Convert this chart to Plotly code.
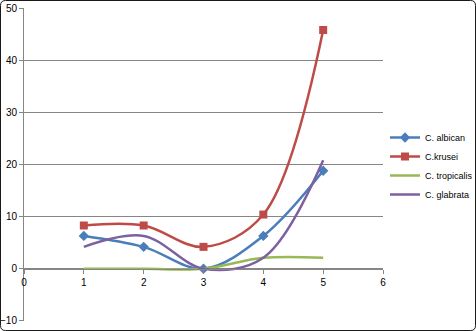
import plotly.graph_objects as go

x_vals = [1, 2, 3, 4, 5]
albican = [6.3, 4.2, 0.0, 6.3, 18.8]
krusei = [8.3, 8.3, 4.2, 10.4, 45.8]
tropicalis = [0.0, 0.0, 0.0, 2.1, 2.1]
glabrata = [4.2, 6.3, 0.0, 2.1, 20.8]

names = ["C. albican", "C.krusei", "C. tropicalis", "C. glabrata"]
colors = ["#4A7EBB", "#BE4B48", "#98B954", "#7D60A0"]
symbols = ["diamond", "square", None, None]
series = [albican, krusei, tropicalis, glabrata]

W, H = 476, 331
L, R, T, B = 24, 0, 8, 10
plot_right = 383
pw, ph = W - L - R, H - T - B
dom_right = (plot_right - L) / pw

fig = go.Figure()
for name, ys, c, s in zip(names, series, colors, symbols):
    mode = "lines+markers" if s else "lines"
    fig.add_trace(go.Scatter(
        x=x_vals, y=ys, name=name, mode=mode,
        line=dict(color=c, width=2.5, shape="spline", smoothing=1.0),
        marker=dict(symbol=s or "circle", size=8, color=c),
    ))

def px(xp):
    return (xp - L) / pw
def py(yp):
    return (H - B - yp) / ph
x0, x1, y0, y1, r = 0.5, W - 0.5, 0.5, H - 0.5, 5
path = (f"M {px(x0 + r)},{py(y0)} L {px(x1 - r)},{py(y0)} "
        f"Q {px(x1)},{py(y0)} {px(x1)},{py(y0 + r)} "
        f"L {px(x1)},{py(y1 - r)} Q {px(x1)},{py(y1)} {px(x1 - r)},{py(y1)} "
        f"L {px(x0 + r)},{py(y1)} Q {px(x0)},{py(y1)} {px(x0)},{py(y1 - r)} "
        f"L {px(x0)},{py(y0 + r)} Q {px(x0)},{py(y0)} {px(x0 + r)},{py(y0)} Z")

fig.update_layout(
    width=W, height=H,
    margin=dict(l=L, r=R, t=T, b=B, autoexpand=False),
    paper_bgcolor="white", plot_bgcolor="white",
    font=dict(family="Liberation Sans, Arial, sans-serif", size=10, color="#000000"),
    showlegend=True,
    legend=dict(x=px(385), y=py(123), xanchor="left", yanchor="top",
                font=dict(size=9), tracegroupgap=0, itemwidth=30,
                bgcolor="rgba(0,0,0,0)", borderwidth=0),
    xaxis=dict(domain=[0, dom_right], range=[0, 6], dtick=1, tick0=0,
               showgrid=False, zeroline=False,
               showline=True, linecolor="#868686", linewidth=1,
               ticks="outside", ticklen=4, tickcolor="#868686",
               anchor="free", position=1/6, automargin=False),
    yaxis=dict(range=[-10.02, 50.02], dtick=10, tick0=0, showgrid=True,
               gridcolor="#868686", gridwidth=1, zeroline=False, showline=True,
               linecolor="#868686", linewidth=1, ticks="outside", ticklen=4,
               tickcolor="#868686", automargin=False),
    shapes=[dict(type="path", xref="paper", yref="paper", path=path,
                 line=dict(color="#1a1a1a", width=1), layer="above")],
)

fig.write_html("out.html")
